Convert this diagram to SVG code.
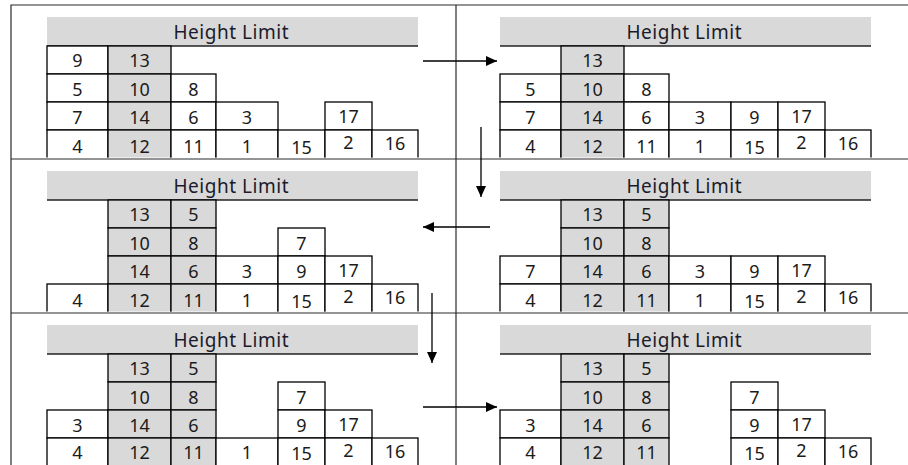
<svg xmlns="http://www.w3.org/2000/svg" width="908" height="465" viewBox="0 0 908 465">
<style>
.c{fill:#fff;stroke:#000;stroke-width:1.3}
.g{fill:#d9d9d9;stroke:#000;stroke-width:1.3}
.t{font-family:"Noto Sans","Liberation Sans",sans-serif;font-size:18px;fill:#1b1b1b;text-anchor:middle}
.h{font-family:"Noto Sans","Liberation Sans",sans-serif;font-size:19px;fill:#1b1b2b;text-anchor:middle}
.bar{fill:#d9d9d9}
.bl{stroke:#222;stroke-width:1.6}
.fr{stroke:#2a2a2a;stroke-width:1.2;fill:none}
.ar{stroke:#000;stroke-width:1.3;fill:none;marker-end:url(#ah)}
</style>
<defs>
<marker id="ah" markerUnits="userSpaceOnUse" markerWidth="12" markerHeight="10" refX="11" refY="5" orient="auto">
<path d="M0,0 L11,5 L0,10 z" fill="#000"/>
</marker>
<clipPath id="pc" clipPathUnits="userSpaceOnUse"><rect x="0" y="0" width="908" height="157.5"/></clipPath>
<g id="hdr">
<rect class="bar" x="47" y="17" width="371" height="29"/>
<line class="bl" x1="47" y1="46" x2="418" y2="46"/>
<text class="h" x="231" y="39" textLength="115" lengthAdjust="spacing">Height Limit</text>
</g>
</defs>

<g id="panel1">
<use href="#hdr"/>
<g clip-path="url(#pc)">
<rect class="c" x="47" y="46" width="61" height="28"/><text class="t" x="77.5" y="67">9</text>
<rect class="g" x="108" y="46" width="63" height="28"/><text class="t" x="139.5" y="67">13</text>
<rect class="c" x="47" y="74" width="61" height="28"/><text class="t" x="77.5" y="96">5</text>
<rect class="g" x="108" y="74" width="63" height="28"/><text class="t" x="139.5" y="96">10</text>
<rect class="c" x="171" y="74" width="45" height="28"/><text class="t" x="193.5" y="96">8</text>
<rect class="c" x="47" y="102" width="61" height="28"/><text class="t" x="77.5" y="124">7</text>
<rect class="g" x="108" y="102" width="63" height="28"/><text class="t" x="139.5" y="124">14</text>
<rect class="c" x="171" y="102" width="45" height="28"/><text class="t" x="193.5" y="124">6</text>
<rect class="c" x="216" y="102" width="62" height="28"/><text class="t" x="247" y="124">3</text>
<rect class="c" x="325" y="102" width="47" height="28"/><text class="t" x="348.5" y="123">17</text>
<rect class="c" x="47" y="130" width="61" height="30"/><text class="t" x="77.5" y="153">4</text>
<rect class="g" x="108" y="130" width="63" height="30"/><text class="t" x="139.5" y="153">12</text>
<rect class="c" x="171" y="130" width="45" height="30"/><text class="t" x="193.5" y="153">11</text>
<rect class="c" x="216" y="130" width="62" height="30"/><text class="t" x="247" y="153">1</text>
<rect class="c" x="278" y="130" width="47" height="30"/><text class="t" x="301.5" y="154">15</text>
<rect class="c" x="325" y="130" width="47" height="30"/><text class="t" x="348.5" y="149">2</text>
<rect class="c" x="372" y="130" width="46" height="30"/><text class="t" x="395" y="150">16</text>
</g>
</g>

<g id="panel2" transform="translate(453,0)">
<use href="#hdr"/>
<g clip-path="url(#pc)">
<rect class="g" x="108" y="46" width="63" height="28"/><text class="t" x="139.5" y="67">13</text>
<rect class="c" x="47" y="74" width="61" height="28"/><text class="t" x="77.5" y="96">5</text>
<rect class="g" x="108" y="74" width="63" height="28"/><text class="t" x="139.5" y="96">10</text>
<rect class="c" x="171" y="74" width="45" height="28"/><text class="t" x="193.5" y="96">8</text>
<rect class="c" x="47" y="102" width="61" height="28"/><text class="t" x="77.5" y="124">7</text>
<rect class="g" x="108" y="102" width="63" height="28"/><text class="t" x="139.5" y="124">14</text>
<rect class="c" x="171" y="102" width="45" height="28"/><text class="t" x="193.5" y="124">6</text>
<rect class="c" x="216" y="102" width="62" height="28"/><text class="t" x="247" y="124">3</text>
<rect class="c" x="278" y="102" width="47" height="28"/><text class="t" x="301.5" y="124">9</text>
<rect class="c" x="325" y="102" width="47" height="28"/><text class="t" x="348.5" y="123">17</text>
<rect class="c" x="47" y="130" width="61" height="30"/><text class="t" x="77.5" y="153">4</text>
<rect class="g" x="108" y="130" width="63" height="30"/><text class="t" x="139.5" y="153">12</text>
<rect class="c" x="171" y="130" width="45" height="30"/><text class="t" x="193.5" y="153">11</text>
<rect class="c" x="216" y="130" width="62" height="30"/><text class="t" x="247" y="153">1</text>
<rect class="c" x="278" y="130" width="47" height="30"/><text class="t" x="301.5" y="154">15</text>
<rect class="c" x="325" y="130" width="47" height="30"/><text class="t" x="348.5" y="149">2</text>
<rect class="c" x="372" y="130" width="46" height="30"/><text class="t" x="395" y="150">16</text>
</g>
</g>

<g id="panel3" transform="translate(453,154)">
<use href="#hdr"/>
<g clip-path="url(#pc)">
<rect class="g" x="108" y="46" width="63" height="28"/><text class="t" x="139.5" y="67">13</text>
<rect class="g" x="171" y="46" width="45" height="28"/><text class="t" x="193.5" y="67">5</text>
<rect class="g" x="108" y="74" width="63" height="28"/><text class="t" x="139.5" y="96">10</text>
<rect class="g" x="171" y="74" width="45" height="28"/><text class="t" x="193.5" y="96">8</text>
<rect class="c" x="47" y="102" width="61" height="28"/><text class="t" x="77.5" y="124">7</text>
<rect class="g" x="108" y="102" width="63" height="28"/><text class="t" x="139.5" y="124">14</text>
<rect class="g" x="171" y="102" width="45" height="28"/><text class="t" x="193.5" y="124">6</text>
<rect class="c" x="216" y="102" width="62" height="28"/><text class="t" x="247" y="124">3</text>
<rect class="c" x="278" y="102" width="47" height="28"/><text class="t" x="301.5" y="124">9</text>
<rect class="c" x="325" y="102" width="47" height="28"/><text class="t" x="348.5" y="123">17</text>
<rect class="c" x="47" y="130" width="61" height="30"/><text class="t" x="77.5" y="153">4</text>
<rect class="g" x="108" y="130" width="63" height="30"/><text class="t" x="139.5" y="153">12</text>
<rect class="g" x="171" y="130" width="45" height="30"/><text class="t" x="193.5" y="153">11</text>
<rect class="c" x="216" y="130" width="62" height="30"/><text class="t" x="247" y="153">1</text>
<rect class="c" x="278" y="130" width="47" height="30"/><text class="t" x="301.5" y="154">15</text>
<rect class="c" x="325" y="130" width="47" height="30"/><text class="t" x="348.5" y="149">2</text>
<rect class="c" x="372" y="130" width="46" height="30"/><text class="t" x="395" y="150">16</text>
</g>
</g>

<g id="panel4" transform="translate(0,154)">
<use href="#hdr"/>
<g clip-path="url(#pc)">
<rect class="g" x="108" y="46" width="63" height="28"/><text class="t" x="139.5" y="67">13</text>
<rect class="g" x="171" y="46" width="45" height="28"/><text class="t" x="193.5" y="67">5</text>
<rect class="g" x="108" y="74" width="63" height="28"/><text class="t" x="139.5" y="96">10</text>
<rect class="g" x="171" y="74" width="45" height="28"/><text class="t" x="193.5" y="96">8</text>
<rect class="c" x="278" y="74" width="47" height="28"/><text class="t" x="301.5" y="96">7</text>
<rect class="g" x="108" y="102" width="63" height="28"/><text class="t" x="139.5" y="124">14</text>
<rect class="g" x="171" y="102" width="45" height="28"/><text class="t" x="193.5" y="124">6</text>
<rect class="c" x="216" y="102" width="62" height="28"/><text class="t" x="247" y="124">3</text>
<rect class="c" x="278" y="102" width="47" height="28"/><text class="t" x="301.5" y="124">9</text>
<rect class="c" x="325" y="102" width="47" height="28"/><text class="t" x="348.5" y="123">17</text>
<rect class="c" x="47" y="130" width="61" height="30"/><text class="t" x="77.5" y="153">4</text>
<rect class="g" x="108" y="130" width="63" height="30"/><text class="t" x="139.5" y="153">12</text>
<rect class="g" x="171" y="130" width="45" height="30"/><text class="t" x="193.5" y="153">11</text>
<rect class="c" x="216" y="130" width="62" height="30"/><text class="t" x="247" y="153">1</text>
<rect class="c" x="278" y="130" width="47" height="30"/><text class="t" x="301.5" y="154">15</text>
<rect class="c" x="325" y="130" width="47" height="30"/><text class="t" x="348.5" y="149">2</text>
<rect class="c" x="372" y="130" width="46" height="30"/><text class="t" x="395" y="150">16</text>
</g>
</g>

<g id="panel5" transform="translate(0,308)">
<use href="#hdr"/>
<g clip-path="url(#pc)">
<rect class="g" x="108" y="46" width="63" height="28"/><text class="t" x="139.5" y="67">13</text>
<rect class="g" x="171" y="46" width="45" height="28"/><text class="t" x="193.5" y="67">5</text>
<rect class="g" x="108" y="74" width="63" height="28"/><text class="t" x="139.5" y="96">10</text>
<rect class="g" x="171" y="74" width="45" height="28"/><text class="t" x="193.5" y="96">8</text>
<rect class="c" x="278" y="74" width="47" height="28"/><text class="t" x="301.5" y="96">7</text>
<rect class="c" x="47" y="102" width="61" height="28"/><text class="t" x="77.5" y="124">3</text>
<rect class="g" x="108" y="102" width="63" height="28"/><text class="t" x="139.5" y="124">14</text>
<rect class="g" x="171" y="102" width="45" height="28"/><text class="t" x="193.5" y="124">6</text>
<rect class="c" x="278" y="102" width="47" height="28"/><text class="t" x="301.5" y="124">9</text>
<rect class="c" x="325" y="102" width="47" height="28"/><text class="t" x="348.5" y="123">17</text>
<rect class="c" x="47" y="130" width="61" height="30"/><text class="t" x="77.5" y="151">4</text>
<rect class="g" x="108" y="130" width="63" height="30"/><text class="t" x="139.5" y="151">12</text>
<rect class="g" x="171" y="130" width="45" height="30"/><text class="t" x="193.5" y="151">11</text>
<rect class="c" x="216" y="130" width="62" height="30"/><text class="t" x="247" y="151">1</text>
<rect class="c" x="278" y="130" width="47" height="30"/><text class="t" x="301.5" y="152">15</text>
<rect class="c" x="325" y="130" width="47" height="30"/><text class="t" x="348.5" y="149">2</text>
<rect class="c" x="372" y="130" width="46" height="30"/><text class="t" x="395" y="150">16</text>
</g>
</g>

<g id="panel6" transform="translate(453,308)">
<use href="#hdr"/>
<g clip-path="url(#pc)">
<rect class="g" x="108" y="46" width="63" height="28"/><text class="t" x="139.5" y="67">13</text>
<rect class="g" x="171" y="46" width="45" height="28"/><text class="t" x="193.5" y="67">5</text>
<rect class="g" x="108" y="74" width="63" height="28"/><text class="t" x="139.5" y="96">10</text>
<rect class="g" x="171" y="74" width="45" height="28"/><text class="t" x="193.5" y="96">8</text>
<rect class="c" x="278" y="74" width="47" height="28"/><text class="t" x="301.5" y="96">7</text>
<rect class="c" x="47" y="102" width="61" height="28"/><text class="t" x="77.5" y="124">3</text>
<rect class="g" x="108" y="102" width="63" height="28"/><text class="t" x="139.5" y="124">14</text>
<rect class="g" x="171" y="102" width="45" height="28"/><text class="t" x="193.5" y="124">6</text>
<rect class="c" x="278" y="102" width="47" height="28"/><text class="t" x="301.5" y="124">9</text>
<rect class="c" x="325" y="102" width="47" height="28"/><text class="t" x="348.5" y="123">17</text>
<rect class="c" x="47" y="130" width="61" height="30"/><text class="t" x="77.5" y="151">4</text>
<rect class="g" x="108" y="130" width="63" height="30"/><text class="t" x="139.5" y="151">12</text>
<rect class="g" x="171" y="130" width="45" height="30"/><text class="t" x="193.5" y="151">11</text>
<rect class="c" x="278" y="130" width="47" height="30"/><text class="t" x="301.5" y="152">15</text>
<rect class="c" x="325" y="130" width="47" height="30"/><text class="t" x="348.5" y="149">2</text>
<rect class="c" x="372" y="130" width="46" height="30"/><text class="t" x="395" y="150">16</text>
</g>
</g>

<g id="frame" class="fr">
<path d="M11,465 V5 H908"/>
<path d="M456,5 V465"/>
<path d="M11,159 H908"/>
<path d="M11,313 H908"/>
</g>

<g id="connectors">
<path class="ar" d="M423,61 H497"/>
<path class="ar" d="M481,127 V197"/>
<path class="ar" d="M490,227 H423"/>
<path class="ar" d="M432,293 V363"/>
<path class="ar" d="M423,407 H497"/>
</g>
</svg>
